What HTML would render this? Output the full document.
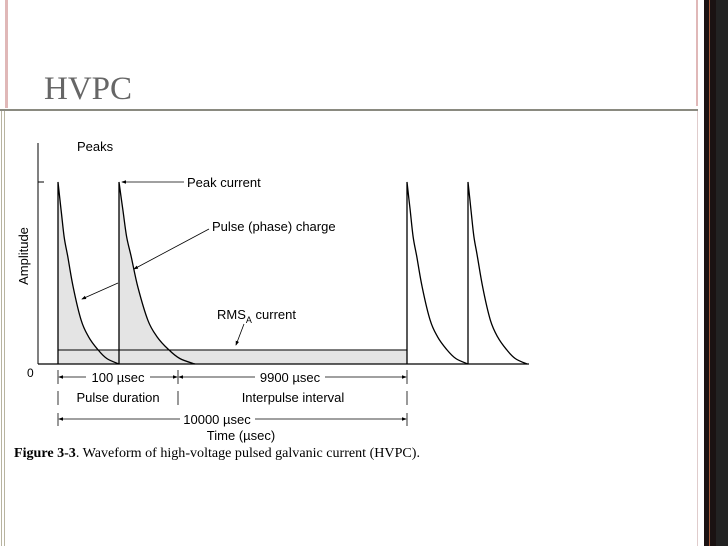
<!DOCTYPE html>
<html><head><meta charset="utf-8"><style>
html,body{margin:0;padding:0;}
body{width:728px;height:546px;position:relative;background:#fff;overflow:hidden;font-family:"Liberation Sans",sans-serif;}
</style></head><body>
<div style="position:absolute;left:5px;top:0;width:3px;height:108px;background:#e0b8b8"></div>
<div style="position:absolute;left:696px;top:0;width:2px;height:106px;background:#e0b8b8"></div>
<div style="position:absolute;left:704px;top:0;width:24px;height:546px;background:#222"></div>
<div style="position:absolute;left:704px;top:0;width:12px;height:546px;background:#1a1212"></div>
<div style="position:absolute;left:709px;top:0;width:1px;height:546px;background:#a0583a"></div>
<div style="position:absolute;left:44px;top:71px;font-family:'Liberation Serif',serif;font-size:33px;color:#666">HVPC</div>
<div style="position:absolute;left:0;top:109px;width:698px;height:2px;background:#8a8a80"></div>
<div style="position:absolute;left:1px;top:111px;width:4px;height:435px;border-left:1px solid #b8b4a0;border-right:1px solid #b8b4a0;box-sizing:border-box"></div>
<div style="position:absolute;left:697px;top:111px;width:1px;height:435px;background:#e0cccc"></div>
<svg id="chart" width="728" height="546" style="position:absolute;left:0;top:0" xmlns="http://www.w3.org/2000/svg">
<defs><marker id="ah" markerWidth="6" markerHeight="6" refX="5" refY="3" orient="auto"><path d="M0,0.8 L6,3 L0,5.2z" fill="#000"/></marker></defs>
<g id="marks"></g>
<g font-size="13" fill="#000">
<text x="77" y="151">Peaks</text>
<text x="187" y="187">Peak current</text>
<text x="212" y="231">Pulse (phase) charge</text>
<text x="217" y="319">RMS<tspan font-size="9" dy="4">A</tspan><tspan dy="-4"> current</tspan></text>
<text x="27" y="377" font-size="12">0</text>
<text x="118" y="382" text-anchor="middle">100 µsec</text>
<text x="290" y="382" text-anchor="middle">9900 µsec</text>
<text x="118" y="402" text-anchor="middle">Pulse duration</text>
<text x="293" y="402" text-anchor="middle">Interpulse interval</text>
<text x="217" y="424" text-anchor="middle">10000 µsec</text>
<text x="241" y="440" text-anchor="middle">Time (µsec)</text>
<text transform="translate(28,256) rotate(-90)" text-anchor="middle">Amplitude</text>
</g>
<text x="14" y="457" font-family="Liberation Serif,serif" font-size="14" textLength="406" lengthAdjust="spacingAndGlyphs"><tspan font-weight="bold">Figure 3-3</tspan>. Waveform of high-voltage pulsed galvanic current (HVPC).</text>
</svg>
<script>
// pulse data (time units = pixels of the original figure's time axis)
const pulseStarts = [0, 61, 349, 410];
const pulseDurations = [61, 76, 61, 59];
const pulseShaded = [1, 1, 0, 0];
const decayT = [0, 0.05, 0.1, 0.16, 0.25, 0.38, 0.5, 0.65, 0.8, 1];
const decayA = [1, 0.85, 0.70, 0.59, 0.42, 0.24, 0.15, 0.08, 0.03, 0];
const rmsLevel = 0.077;
const rmsSpan = [0, 349];

const X0 = 58, Y0 = 364, YH = 182;
const xs = t => X0 + t;
const ys = a => Y0 - a * YH;
const NS = 'http://www.w3.org/2000/svg';
const g = document.getElementById('marks');
function mk(tag, attrs){const e=document.createElementNS(NS,tag);for(const k in attrs)e.setAttribute(k,attrs[k]);g.appendChild(e);return e;}
function smooth(P){let d='';for(let i=0;i<P.length-1;i++){const p0=P[Math.max(0,i-1)],p1=P[i],p2=P[i+1],p3=P[Math.min(P.length-1,i+2)];
 const c1=[p1[0]+(p2[0]-p0[0])/6,p1[1]+(p2[1]-p0[1])/6],c2=[p2[0]-(p3[0]-p1[0])/6,p2[1]-(p3[1]-p1[1])/6];
 d+=' C'+c1[0].toFixed(1)+','+c1[1].toFixed(1)+' '+c2[0].toFixed(1)+','+c2[1].toFixed(1)+' '+p2[0].toFixed(1)+','+p2[1].toFixed(1);}return d;}

const rb = mk('rect',{x:xs(rmsSpan[0]),y:ys(rmsLevel),width:xs(rmsSpan[1])-xs(rmsSpan[0]),height:Y0-ys(rmsLevel),fill:'#e4e4e4',stroke:'#000','stroke-width':1});



pulseStarts.forEach((s,i)=>{
  const d = pulseDurations[i];
  const P = decayT.map((t,j)=>[xs(s+t*d), ys(decayA[j])]);
  const dd = 'M'+xs(s)+','+Y0+' L'+P[0][0]+','+P[0][1]+smooth(P);
  if(pulseShaded[i]){
    const f = mk('path',{d:dd+' Z',fill:'#e4e4e4',stroke:'none'});
    
    
  }
  const p = mk('path',{d:dd,fill:'none',stroke:'#000','stroke-width':1.3});
  
  
});
const rl = mk('line',{x1:xs(rmsSpan[0]),y1:ys(rmsLevel),x2:xs(rmsSpan[1]),y2:ys(rmsLevel),stroke:'#000','stroke-width':1});



const ya = mk('line',{x1:38,y1:143,x2:38,y2:Y0,stroke:'#000','stroke-width':1});


const yt = mk('line',{x1:38,y1:ys(1),x2:44,y2:ys(1),stroke:'#000','stroke-width':1});


const xa = mk('line',{x1:38,y1:Y0,x2:xs(pulseStarts[3]+pulseDurations[3])+2,y2:Y0,stroke:'#000','stroke-width':1.2});



function arrow(x1,y1,x2,y2,name){const a=mk('line',{x1,y1,x2,y2,stroke:'#000','stroke-width':0.8,'marker-end':'url(#ah)'});}
arrow(184,182,122,182,'peak-current-arrow');
arrow(209,229,134,269,'pulse-charge-arrow');
arrow(118,283,82,299,'pulse-charge-arrow-2');
arrow(244,324,236,345,'rms-current-arrow');
const A=xs(0), B=178, C=xs(rmsSpan[1]);
arrow(86,377,A+1,377,'dim-100-left');arrow(150,377,B-1,377,'dim-100-right');
arrow(255,377,B+1,377,'dim-9900-left');arrow(325,377,C-1,377,'dim-9900-right');
arrow(180,419,A+1,419,'dim-10000-left');arrow(255,419,C-1,419,'dim-10000-right');
[[A,370,384],[B,370,384],[C,370,384],[A,391,405],[B,391,405],[C,391,405],[A,413,426],[C,413,426]].forEach(v=>{
  const t=mk('line',{x1:v[0],y1:v[1],x2:v[0],y2:v[2],stroke:'#000','stroke-width':0.8});
  
  
});
</script>
</body></html>
